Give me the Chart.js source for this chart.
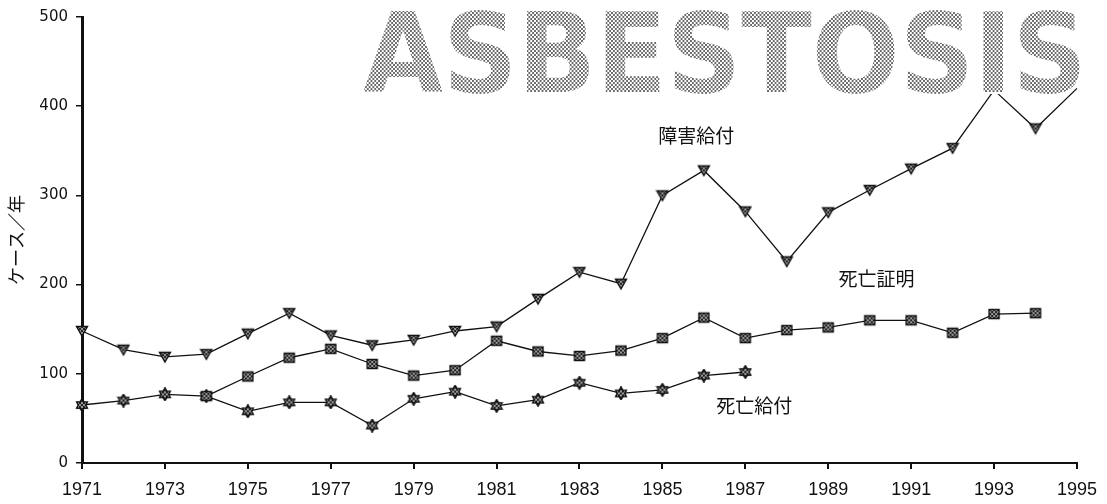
<!DOCTYPE html>
<html lang="ja">
<head>
  <meta charset="UTF-8" />
  <title>Asbestosis</title>
  <script src="https://cdn.jsdelivr.net/npm/chart.js"></script>
  <style>
    body { margin: 0; background: #fff; }
    #chart { display: block; }
  </style>
</head>
<body>
<canvas id="chart" width="1107" height="504"></canvas>
<script>
  // data
  const years = ["1971","1972","1973","1974","1975","1976","1977","1978","1979","1980","1981","1982","1983",
                 "1984","1985","1986","1987","1988","1989","1990","1991","1992","1993","1994","1995"];
  const disability = [148,127,119,122,145,168,143,132,138,148,153,184,214,201,300,328,282,226,281,306,330,353,418,375,420];
  const deathCert  = [null,null,null,75,97,118,128,111,98,104,137,125,120,126,140,163,140,149,152,160,160,146,167,168,null];
  const deathBen   = [65,70,77,75,58,68,68,42,72,80,64,71,90,78,82,98,102,null,null,null,null,null,null,null,null];
  const yTicks = [0,100,200,300,400,500];
  const seriesNames = ["障害給付", "死亡証明", "死亡給付"];
  const yTitle = "ケース／年";
  const title = "ASBESTOSIS";

  // halftone-ish fill
  function dotPattern(ctx, ink) {
    const c = document.createElement("canvas");
    c.width = 4; c.height = 4;
    const g = c.getContext("2d");
    g.fillStyle = ink;
    g.fillRect(0, 0, 2, 2);
    g.fillRect(2, 2, 2, 2);
    return ctx.createPattern(c, "repeat");
  }

  function marker(shape) {
    const c = document.createElement("canvas");
    c.width = 14; c.height = 14;
    const g = c.getContext("2d");
    g.fillStyle = "#999";
    g.beginPath();
    if (shape === "tri") {
      g.moveTo(1.5, 2.5); g.lineTo(12.5, 2.5); g.lineTo(7, 12);
    } else if (shape === "sq") {
      g.rect(2, 2.5, 10, 9);
    } else {
      for (let i = 0; i < 12; i++) {
        const a = Math.PI / 6 * i - Math.PI / 2;
        const r = i % 2 ? 3.8 : 6.3;
        g.lineTo(7 + r * Math.cos(a), 7 + r * Math.sin(a));
      }
    }
    g.closePath();
    g.fill();
    g.fillStyle = dotPattern(g, "#222");
    g.fill();
    g.lineWidth = 1.4;
    g.strokeStyle = "#111";
    g.stroke();
    return c;
  }

  // in-chart labels: left edge in years, middle in case values
  const labelSpots = [
    { text: seriesNames[0], year: 1984.9, value: 367 },
    { text: seriesNames[1], year: 1989.25, value: 206 },
    { text: seriesNames[2], year: 1986.3, value: 64 }
  ];

  const overlay = {
    id: "overlay",
    afterDatasetsDraw(chart) {
      const ctx = chart.ctx;
      const xs = chart.scales.x, ys = chart.scales.y;
      const span = xs.right - xs.left;
      ctx.save();
      ctx.font = '19px "Noto Sans CJK JP"';
      ctx.fillStyle = "#111";
      ctx.textBaseline = "middle";
      labelSpots.forEach(l => {
        ctx.fillText(l.text, xs.left + (l.year - 1971) / 24 * span, ys.getPixelForValue(l.value));
      });

      // big dotted title, covers the top of the line
      ctx.font = 'bold 110px "DejaVu Sans"';
      ctx.textBaseline = "alphabetic";
      const w = ctx.measureText(title).width;
      ctx.translate(363, 92);
      ctx.scale(724 / w, 1);
      ctx.fillStyle = "#fff";
      ctx.strokeStyle = "#fff";
      ctx.lineWidth = 4;
      ctx.strokeText(title, 0, 0);
      ctx.fillText(title, 0, 0);
      ctx.fillStyle = dotPattern(ctx, "#6a6a6a");
      ctx.fillText(title, 0, 0);
      ctx.restore();
    }
  };

  const line = {
    borderColor: "#111",
    borderWidth: 1.3,
    tension: 0,
    pointRadius: c => (c.raw > 410 ? 0 : 6),
    pointHoverRadius: 6,
    fill: false
  };

  new Chart(document.getElementById("chart"), {
    type: "line",
    data: {
      labels: years,
      datasets: [
        Object.assign({ label: seriesNames[0], data: disability, pointStyle: marker("tri") }, line),
        Object.assign({ label: seriesNames[1], data: deathCert, pointStyle: marker("sq") }, line),
        Object.assign({ label: seriesNames[2], data: deathBen, pointStyle: marker("star") }, line)
      ]
    },
    options: {
      responsive: false,
      animation: false,
      devicePixelRatio: 1,
      layout: { padding: { left: 0, right: 30, top: 17, bottom: 0 } },
      plugins: { legend: { display: false }, tooltip: { enabled: false } },
      scales: {
        x: {
          type: "category",
          offset: false,
          afterFit(s) { s.height = 41; },
          border: { display: true, color: "#111", width: 2 },
          grid: {
            drawOnChartArea: false,
            tickLength: 6,
            color: c => (c.index % 2 === 0 ? "#111" : "rgba(0,0,0,0)"),
            lineWidth: 2
          },
          ticks: {
            autoSkip: false,
            maxRotation: 0,
            padding: 10,
            color: "#111",
            font: { family: '"Liberation Sans"', size: 18 },
            callback(v, i) { return i % 2 === 0 ? this.getLabelForValue(v) : ""; }
          }
        },
        y: {
          min: 0,
          max: 500,
          afterFit(s) { s.width = 82; },
          afterBuildTicks(s) { s.ticks = yTicks.map(v => ({ value: v })); },
          border: { display: true, color: "#111", width: 3 },
          grid: { drawOnChartArea: false, tickLength: 6, color: "#111", lineWidth: 1.5 },
          ticks: {
            padding: 8,
            color: "#111",
            font: { family: '"DejaVu Sans"', size: 15 }
          },
          title: {
            display: true,
            text: yTitle,
            color: "#111",
            padding: { top: 5, bottom: 0 },
            font: { family: '"Noto Sans CJK JP"', size: 18 }
          }
        }
      }
    },
    plugins: [overlay]
  });
</script>
</body>
</html>
